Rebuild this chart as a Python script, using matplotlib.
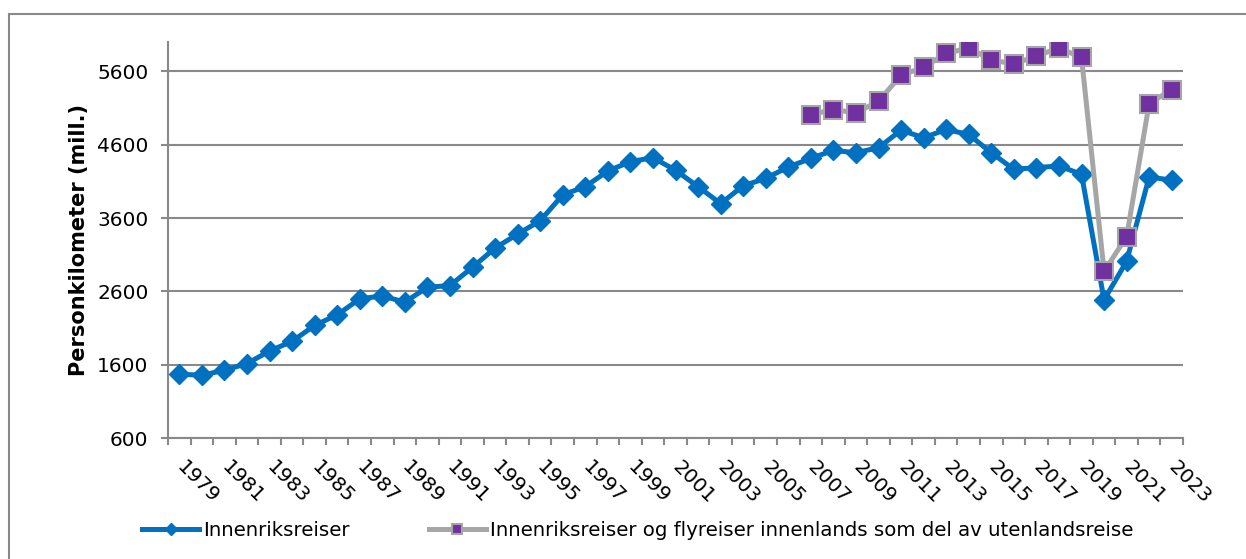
import matplotlib.pyplot as plt
from matplotlib.patches import Rectangle

plt.rcParams['font.family'] = ['DejaVu Sans']

years = list(range(1979, 2024))

innenriks = [1470, 1456, 1524, 1615, 1786, 1918, 2135, 2280, 2497, 2538,
             2452, 2656, 2679, 2928, 3190, 3381, 3562, 3915, 4028, 4241,
             4368, 4423, 4251, 4028, 3797, 4038, 4141, 4295, 4413, 4522,
             4490, 4558, 4798, 4694, 4807, 4739, 4490, 4264, 4287, 4310,
             4196, 2484, 3009, 4160, 4115]

years_fly = list(range(2007, 2024))
innenriks_fly = [5011, 5079, 5034, 5192, 5548, 5654, 5845, 5918, 5758, 5698,
                 5812, 5918, 5790, 2873, 3345, 5160, 5351]

label1 = 'Innenriksreiser'
label2 = 'Innenriksreiser og flyreiser innenlands som del av utenlandsreise'

blue = '#0070C0'
purple = '#7030A0'
lgray = '#A6A6A6'
grid = '#898989'

fig = plt.figure(figsize=(12.46, 5.59), dpi=100)
ax = fig.add_axes([168 / 1246, 1 - 438 / 559, (1183 - 168) / 1246, (438 - 42) / 559])

x1 = [y - 1979 for y in years]
x2 = [y - 1979 for y in years_fly]

ax.plot(x1, innenriks, color=blue, lw=3.6, marker='D', markersize=10,
        markeredgecolor=blue, label=label1, zorder=3)
ax.plot(x2, innenriks_fly, color=lgray, lw=3.6, marker='s', markersize=12.5,
        markerfacecolor=purple, markeredgecolor=lgray, markeredgewidth=1.5,
        label=label2, zorder=4)

ax.set_xlim(-0.5, len(years) - 0.5)
ax.set_ylim(600, 6000)
ax.set_yticks(range(600, 5601, 1000))
ax.yaxis.grid(True, color=grid, lw=1.5)
ax.set_axisbelow(True)

# labels at every other category, tick marks between categories
ax.set_xticks(x1[::2], [str(y) for y in years[::2]])
ax.set_xticks([i - 0.5 for i in range(len(years) + 1)], minor=True)
ax.tick_params(axis='x', which='major', length=0, pad=19, labelsize=14.5)
ax.tick_params(axis='x', which='minor', length=5, width=1.5, color=grid, direction='out')
ax.tick_params(axis='y', length=5, width=1.5, color=grid, labelsize=14.5, pad=9)
for lab in ax.get_xticklabels():
    lab.set_rotation(-45)
    lab.set_ha('left')
    lab.set_va('center')
    lab.set_rotation_mode('anchor')

for s in ['top', 'right']:
    ax.spines[s].set_visible(False)
for s in ['left', 'bottom']:
    ax.spines[s].set_color(grid)
    ax.spines[s].set_linewidth(1.5)

ax.set_ylabel('Personkilometer (mill.)', fontsize=15, fontweight='bold', labelpad=6)

fig.legend(loc='center left', bbox_to_anchor=(142 / 1246, 1 - 530 / 559), ncol=2,
           frameon=False, fontsize=14.2, handlelength=2.9, handletextpad=0.2,
           columnspacing=4.0, markerscale=0.6, borderaxespad=0, borderpad=0)

fig.patches.append(Rectangle((9 / 1246, -0.1), 1.2, 1.1 - 14 / 559, transform=fig.transFigure,
                             fill=False, edgecolor=grid, lw=1.5))

plt.savefig('out.png', dpi=100)
